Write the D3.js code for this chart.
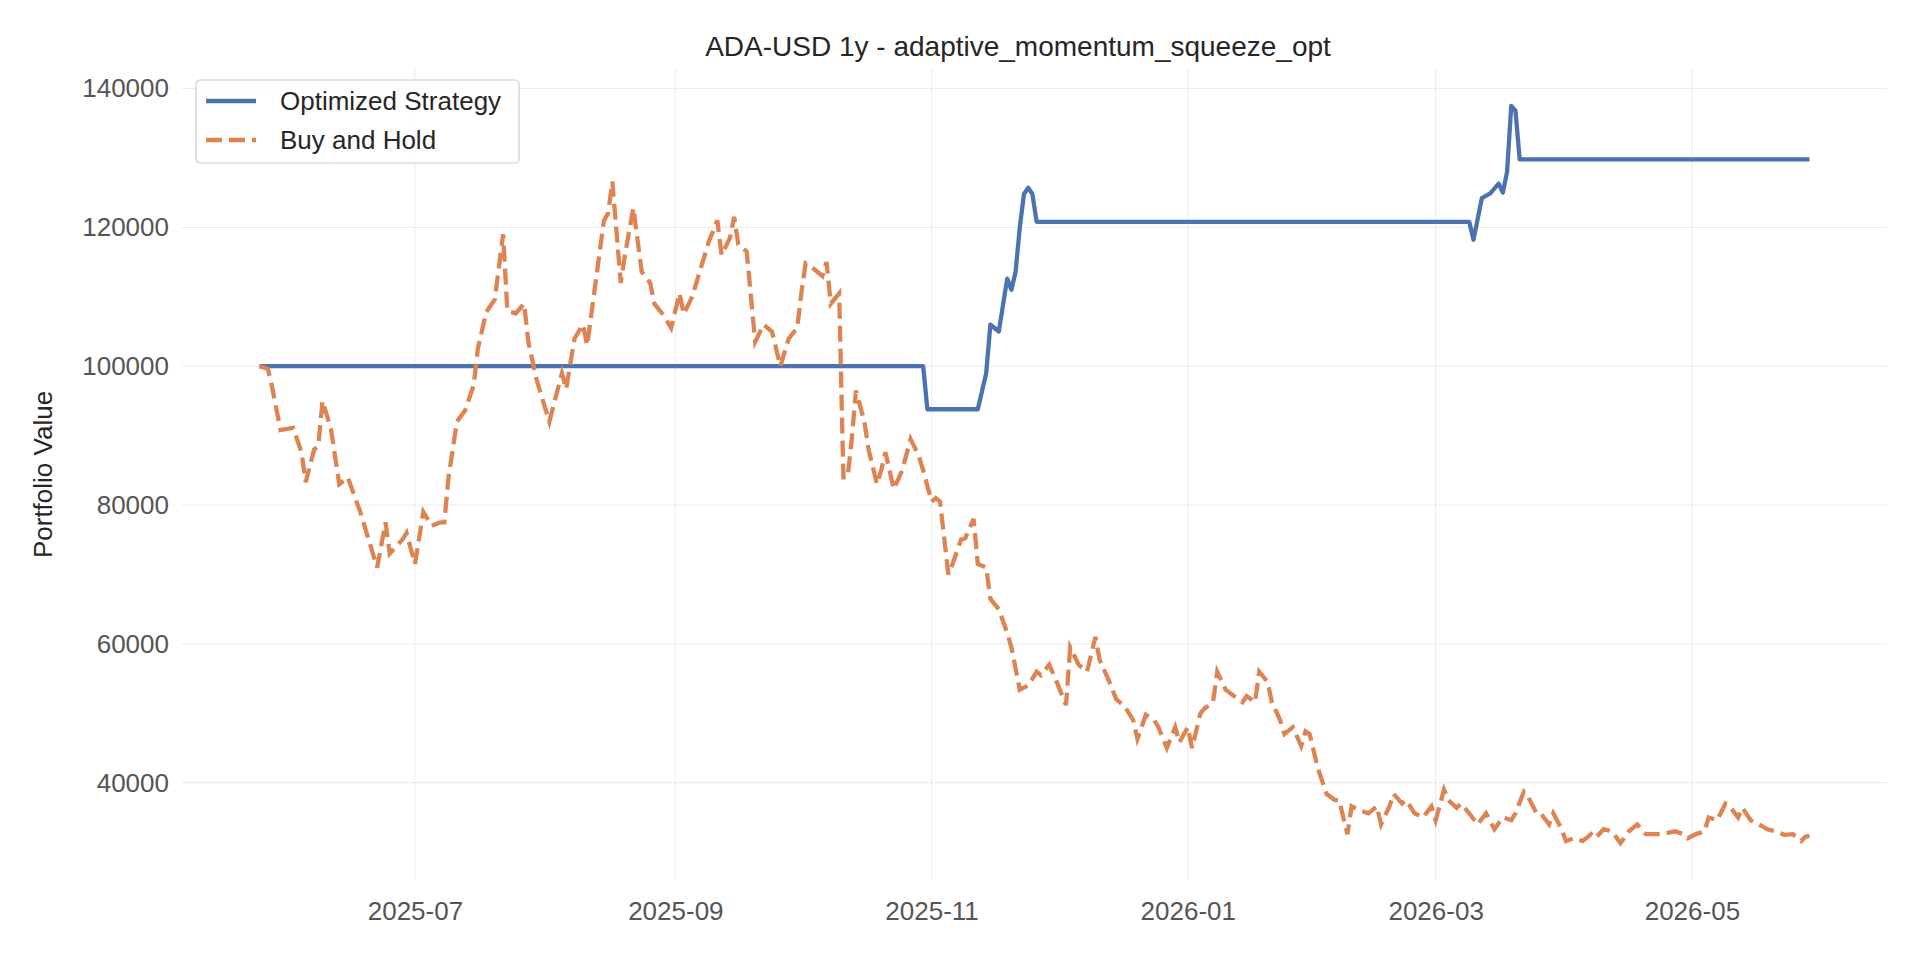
<!DOCTYPE html>
<html>
<head>
<meta charset="utf-8">
<script src="https://cdn.jsdelivr.net/npm/d3@7"></script>
<style>
  body { margin: 0; background: #fff; }
  svg { display: block; font-family: "Liberation Sans", Arial, sans-serif; }
</style>
</head>
<body>
<div id="chart"></div>
<script>
// Data: day offsets from the start date, with portfolio values
const startDate = new Date(2025, 4, 25);

const holdDays = [0,2,3,5,7,8,10,11,13,14,15,17,19,21,24,26,28,30,31,34,35,37,39,41,43,44,45,47,49,51,52,54,56,58,59,61,63,64,66,69,72,73,75,77,78,80,82,83,84,86,87,89,91,93,94,96,98,100,101,103,104,107,109,110,112,113,114,116,118,120,122,124,126,128,129,130,132,134,135,136,138,139,140,141,142,144,145,147,148,149,151,153,155,157,158,160,161,162,164,165,167,168,170,171,173,174,176,178,179,181,183,185,186,188,190,192,193,195,197,199,200,202,204,206,208,209,211,213,214,216,218,219,221,222,224,225,227,228,230,232,234,235,237,238,240,241,243,244,246,248,249,250,252,254,256,257,259,260,262,264,266,267,269,270,272,273,275,277,279,280,282,283,285,286,288,290,292,294,296,298,299,301,302,304,305,307,308,310,311,313,315,317,318,320,322,324,326,328,330,332,334,337,339,340,342,344,345,347,349,350,352,353,355,357,359,361,363,365,367,368,369];
const holdValues = [100000,99600,97000,90800,91000,91100,87600,83300,88000,88500,95000,91000,83000,84000,79000,75000,71000,77500,73000,75000,76000,71500,79000,77000,77500,77500,84000,92000,93700,97300,102600,107800,109600,119000,108000,107600,109000,103500,98000,92000,99000,96700,104000,106000,103000,112000,121000,122000,126600,112000,116000,122800,113600,112000,109000,107500,105500,110500,107500,110000,112000,118000,121000,116000,118500,121500,117500,116500,103500,106000,105000,100000,104000,105500,110500,114800,114000,113000,115000,109000,110500,84000,84000,89500,96500,92000,88000,83000,85000,87600,82300,85000,89500,87000,85000,80500,81000,80500,70000,71500,75000,75200,78000,71500,71000,66500,65000,61600,59500,53400,54000,56000,55500,57000,54200,51200,59500,57000,56000,61000,57700,55000,52000,51000,49000,46300,49800,49000,48000,45000,48000,45800,48000,45000,50000,50700,51600,56000,53400,52500,51600,52500,51600,56000,54500,51600,49000,47000,48000,45300,47400,47000,42000,38400,37500,37500,32600,36600,36000,35600,36600,34000,36600,38400,37000,37500,35600,35000,36600,34600,39000,37500,36400,37000,35600,34000,35600,33300,35000,34600,35600,38700,38000,35600,35600,34000,35600,33300,31600,32000,31600,32600,32000,33300,33000,31300,33000,34000,32600,32600,32600,33000,32600,32000,32600,33000,35000,34600,37000,36600,35000,36400,34600,34000,33300,33000,32500,32600,31600,32200,32400];

const stratDays = [0,158,159,171,173,174,176,178,179,180,181,182,183,184,185,288,289,291,293,295,296,297,298,299,300,369];
const stratValues = [100000,100000,93800,93800,99000,106000,105000,112600,111000,113600,120000,124800,125700,124800,120800,120800,118200,124200,124900,126300,125000,128000,137500,136800,129800,129800];

const yTicks = [40000,60000,80000,100000,120000,140000];
const xTicks = [new Date(2025,6,1), new Date(2025,8,1), new Date(2025,10,1), new Date(2026,0,1), new Date(2026,2,1), new Date(2026,4,1)];

const seriesNames = ["Optimized Strategy", "Buy and Hold"];
const seriesColors = ["#4c72b0", "#dd8452"];

const dayToDate = d => d3.timeDay.offset(startDate, d);
const hold = holdDays.map((d, i) => ({ date: dayToDate(d), value: holdValues[i] }));
const strat = stratDays.map((d, i) => ({ date: dayToDate(d), value: stratValues[i] }));

const width = 1920, height = 960;
const margin = { top: 69, right: 33, bottom: 80, left: 182 };
const innerWidth = width - margin.left - margin.right;
const innerHeight = height - margin.top - margin.bottom;

const svg = d3.select("#chart").append("svg")
    .attr("width", width)
    .attr("height", height);

const g = svg.append("g")
    .attr("transform", `translate(${margin.left},${margin.top})`);

// Scales with 5% padding like matplotlib
const xExt = d3.extent(hold, d => d.date);
const xSpan = xExt[1] - xExt[0];
const x = d3.scaleTime()
    .domain([new Date(+xExt[0] - xSpan * 0.05), new Date(+xExt[1] + xSpan * 0.05)])
    .range([0, innerWidth]);

const allVals = holdValues.concat(stratValues);
const yMin = d3.min(allVals), yMax = d3.max(allVals);
const ySpan = yMax - yMin;
const y = d3.scaleLinear()
    .domain([yMin - ySpan * 0.05, yMax + ySpan * 0.05])
    .range([innerHeight, 0]);

// Grid
g.append("g")
    .selectAll("line")
    .data(yTicks)
    .enter().append("line")
    .attr("x1", 0).attr("x2", innerWidth)
    .attr("y1", d => y(d)).attr("y2", d => y(d))
    .style("stroke", "#ebebeb").style("stroke-width", 1);

g.append("g")
    .selectAll("line")
    .data(xTicks)
    .enter().append("line")
    .attr("y1", 0).attr("y2", innerHeight)
    .attr("x1", d => x(d)).attr("x2", d => x(d))
    .style("stroke", "#ebebeb").style("stroke-width", 1);

// Axes (no domain, no tick lines)
const xAxis = g.append("g")
    .attr("transform", `translate(0,${innerHeight})`)
    .call(d3.axisBottom(x).tickValues(xTicks).tickSize(0).tickPadding(22).tickFormat(d3.timeFormat("%Y-%m")));
xAxis.select(".domain").remove();
xAxis.selectAll("text")
    .style("fill", "#555555")
    .style("font-size", "26px")
    .style("font-family", "Liberation Sans, Arial, sans-serif");

const yAxis = g.append("g")
    .call(d3.axisLeft(y).tickValues(yTicks).tickSize(0).tickPadding(13).tickFormat(d3.format("d")));
yAxis.select(".domain").remove();
yAxis.selectAll("text")
    .style("fill", "#555555")
    .style("font-size", "26px")
    .style("font-family", "Liberation Sans, Arial, sans-serif");

// Lines
const line = d3.line()
    .x(d => x(d.date))
    .y(d => y(d.value));

g.append("path")
    .datum(strat)
    .attr("d", line)
    .style("fill", "none")
    .style("stroke", seriesColors[0])
    .style("stroke-width", 4.3)
    .style("stroke-linejoin", "round");

g.append("path")
    .datum(hold)
    .attr("d", line)
    .style("fill", "none")
    .style("stroke", seriesColors[1])
    .style("stroke-width", 4.3)
    .style("stroke-dasharray", "16,7");

// Title
svg.append("text")
    .attr("x", 1018)
    .attr("y", 56)
    .style("text-anchor", "middle")
    .style("font-size", "28px")
    .style("fill", "#262626")
    .text("ADA-USD 1y - adaptive_momentum_squeeze_opt");

// Y label
svg.append("text")
    .attr("transform", `translate(52,${margin.top + innerHeight / 2}) rotate(-90)`)
    .style("text-anchor", "middle")
    .style("font-size", "26px")
    .style("fill", "#262626")
    .text("Portfolio Value");

// Legend
const legend = svg.append("g").attr("transform", "translate(196,80)");
legend.append("rect")
    .attr("width", 323).attr("height", 83)
    .attr("rx", 4)
    .style("fill", "#ffffff")
    .style("fill-opacity", 0.8)
    .style("stroke", "#cccccc")
    .style("stroke-width", 1.2);

seriesNames.forEach((name, i) => {
    const row = legend.append("g").attr("transform", `translate(10,${21 + i * 39})`);
    row.append("line")
        .attr("x1", 0).attr("x2", 50)
        .style("stroke", seriesColors[i])
        .style("stroke-width", 4.3)
        .style("stroke-dasharray", i === 1 ? "16,7" : null);
    row.append("text")
        .attr("x", 74).attr("y", 9)
        .style("font-size", "26px")
        .style("fill", "#262626")
        .text(name);
});
</script>
</body>
</html>
